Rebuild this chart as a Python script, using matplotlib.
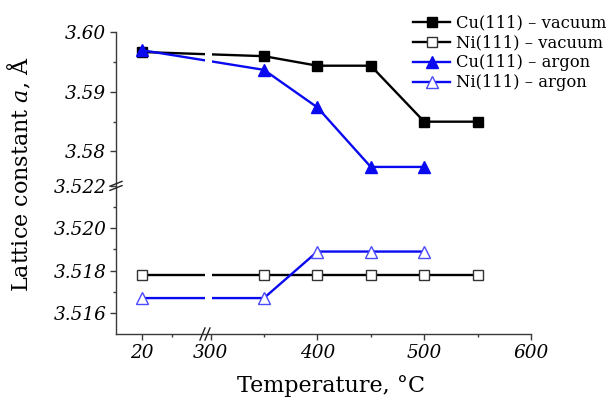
import numpy as np
import matplotlib
matplotlib.use("Agg")
from matplotlib import pyplot as plt
from matplotlib.patches import Rectangle
from matplotlib.ticker import FixedLocator

plt.rcParams["font.family"] = ["DejaVu Serif"]
plt.rcParams["mathtext.fontset"] = "dejavuserif"

# data
temps_vac = [20, 350, 400, 450, 500, 550]
cu_vac = [3.5967, 3.5960, 3.5944, 3.5944, 3.5850, 3.5850]
ni_vac = [3.5178, 3.5178, 3.5178, 3.5178, 3.5178, 3.5178]
temps_arg = [20, 350, 400, 450, 500]
cu_arg = [3.5970, 3.5937, 3.5874, 3.5774, 3.5774]
ni_arg = [3.5167, 3.5167, 3.5189, 3.5189, 3.5189]

x_major = [20, 300, 400, 500, 600]
x_minor = [50, 350, 450, 550]
y_major = [3.516, 3.518, 3.520, 3.522, 3.58, 3.59, 3.60]
y_major_labels = ["3.516", "3.518", "3.520", "3.522", "3.58", "3.59", "3.60"]
y_minor = [3.517, 3.519, 3.521, 3.585, 3.595]

# broken axes: data breakpoints -> axis fraction
x_data = [-6, 84.4, 296.7, 600]
x_frac = [0.0, 0.2193, 0.2194, 1.0]
y_data = [3.515, 3.522, 3.5742, 3.600]
y_frac = [0.0, 0.4906, 0.4907, 1.0]


def piecewise(data, frac):
    def fwd(v):
        return np.interp(v, data, frac)

    def inv(u):
        return np.interp(u, frac, data)

    return fwd, inv


fig = plt.figure(figsize=(6.13, 3.99), dpi=100)
ax = fig.add_axes([0.1892, 0.1629, 0.677, 0.756])
ax.set_xscale("function", functions=piecewise(x_data, x_frac))
ax.set_yscale("function", functions=piecewise(y_data, y_frac))
ax.set_xlim(x_data[0], x_data[-1])
ax.set_ylim(y_data[0], y_data[-1])

blue = "#0a0af0"
ax.plot(temps_vac, cu_vac, "-s", color="black", lw=1.7, ms=7,
        mfc="black", mec="black", label="Cu(111) – vacuum")
ax.plot(temps_vac, ni_vac, "-s", color="black", lw=1.7, ms=6.5,
        mfc="white", mec="#333333", mew=1.0, label="Ni(111) – vacuum")
ax.plot(temps_arg, cu_arg, "-^", color=blue, lw=1.7, ms=8.5,
        mfc=blue, mec=blue, label="Cu(111) – argon")
ax.plot(temps_arg, ni_arg, "-^", color=blue, lw=1.7, ms=9,
        mfc="white", mec="#4a4aff", mew=1.0, label="Ni(111) – argon")

# gap in the lines at the x break
ax.add_patch(Rectangle((0.2145, 0.008), 0.0168, 1.0, transform=ax.transAxes,
                       facecolor="white", edgecolor="none", zorder=2.6,
                       clip_on=False))

for side in ["top", "right"]:
    ax.spines[side].set_visible(False)
for side in ["left", "bottom"]:
    ax.spines[side].set_color("#3a3a3a")
    ax.spines[side].set_linewidth(1.0)

ax.xaxis.set_major_locator(FixedLocator(x_major))
ax.xaxis.set_minor_locator(FixedLocator(x_minor))
ax.set_xticklabels([str(v) for v in x_major])
ax.yaxis.set_major_locator(FixedLocator(y_major))
ax.yaxis.set_minor_locator(FixedLocator(y_minor))
ax.set_yticklabels(y_major_labels)
ax.tick_params(which="major", direction="out", length=4, width=1.0,
               color="#3a3a3a", labelsize=13.3, pad=3)
ax.tick_params(which="minor", direction="out", length=2.4, width=1.0,
               color="#3a3a3a")
for lab in ax.get_xticklabels() + ax.get_yticklabels():
    lab.set_fontstyle("italic")

# break marks
brk = dict(color="#222222", lw=1.0, transform=ax.transAxes, clip_on=False,
           zorder=5)
ax.plot([0.2024, 0.2145], [-0.02, 0.02], **brk)
ax.plot([0.2145, 0.2265], [-0.02, 0.02], **brk)
ax.plot([-0.0145, 0.0145], [0.490, 0.506], **brk)
ax.plot([-0.0145, 0.0145], [0.476, 0.492], **brk)

ax.set_xlabel("Temperature, °C", fontsize=16)
ax.xaxis.set_label_coords(0.518, -0.135)
ax.set_ylabel("Lattice constant $a$, Å", fontsize=16)
ax.yaxis.set_label_coords(-0.20, 0.53)

fig.legend(loc="upper left", bbox_to_anchor=(0.668, 0.972), frameon=False,
           fontsize=11.8, handlelength=2.3, handletextpad=0.35,
           labelspacing=0.18, borderaxespad=0.0, borderpad=0.2)

fig.savefig("out.png", dpi=100)
